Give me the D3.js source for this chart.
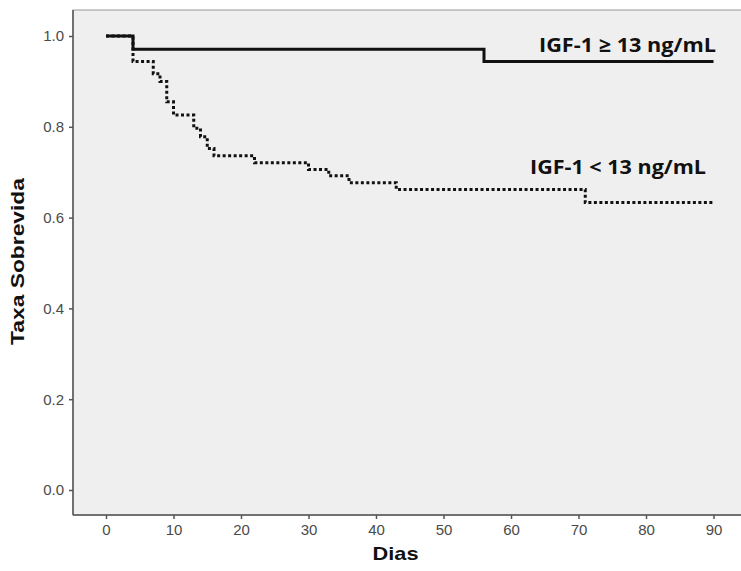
<!DOCTYPE html>
<html>
<head>
<meta charset="utf-8">
<script src="https://cdn.jsdelivr.net/npm/d3@7"></script>
<style>
  body { margin: 0; background: #fff; }
</style>
</head>
<body>
<div id="chart"></div>
<script>
// survival curves
var highDays = [0, 4, 56, 90];
var highSurv = [1.0, 0.971, 0.944, 0.944];

var lowDays = [0, 4, 7, 8, 9, 10, 13, 14, 15, 16, 22, 30, 33, 36, 43, 71, 90];
var lowSurv = [1.0, 0.944, 0.917, 0.900, 0.855, 0.826, 0.797, 0.778, 0.752, 0.736, 0.721, 0.706, 0.692, 0.677, 0.662, 0.633, 0.633];

var xTicks = [0, 10, 20, 30, 40, 50, 60, 70, 80, 90];
var yTicks = [0.0, 0.2, 0.4, 0.6, 0.8, 1.0];

var labelHigh = "IGF-1 \u2265 13 ng/mL";
var labelLow = "IGF-1 < 13 ng/mL";

var svgWidth = 741;
var svgHeight = 571;

var panel = { left: 73, top: 10, right: 760, bottom: 515 };

var svg = d3.select("#chart")
  .append("svg")
  .attr("width", svgWidth)
  .attr("height", svgHeight);

var x = d3.scaleLinear().domain([0, 90]).range([106, 713.5]);
var y = d3.scaleLinear().domain([0, 1]).range([490, 36]);

// grey panel
svg.append("rect")
  .attr("x", panel.left)
  .attr("y", panel.top)
  .attr("width", panel.right - panel.left)
  .attr("height", panel.bottom - panel.top)
  .attr("fill", "#efefef")
  .attr("stroke", "#9a9a9a")
  .attr("stroke-width", 1);

// axes
var bottomAxis = d3.axisBottom(x).tickValues(xTicks).tickSize(4).tickPadding(5).tickFormat(d3.format("d"));
var leftAxis = d3.axisLeft(y).tickValues(yTicks).tickSize(4).tickPadding(5).tickFormat(d3.format(".1f"));

var xAxis = svg.append("g")
  .attr("transform", `translate(0, ${panel.bottom})`)
  .call(bottomAxis);

var yAxis = svg.append("g")
  .attr("transform", `translate(${panel.left}, 0)`)
  .call(leftAxis);

[xAxis, yAxis].forEach(function(g) {
  g.select(".domain").remove();
  g.selectAll(".tick line").attr("stroke", "#555").attr("stroke-width", 1.5);
  g.selectAll(".tick text")
    .attr("fill", "#4a4a4a")
    .style("font-family", "'Liberation Sans', Arial, sans-serif")
    .style("font-size", "15px");
});

// axis lines
svg.append("line")
  .attr("x1", panel.left).attr("x2", panel.left)
  .attr("y1", panel.top).attr("y2", panel.bottom)
  .attr("stroke", "#555").attr("stroke-width", 1.5);
svg.append("line")
  .attr("x1", panel.left).attr("x2", svgWidth)
  .attr("y1", panel.bottom).attr("y2", panel.bottom)
  .attr("stroke", "#555").attr("stroke-width", 1.5);

// curves
var line = d3.line()
  .x(d => x(d[0]))
  .y(d => y(d[1]))
  .curve(d3.curveStepAfter);

svg.append("path")
  .datum(d3.zip(lowDays, lowSurv))
  .attr("fill", "none")
  .attr("stroke", "#111")
  .attr("stroke-width", 3)
  .attr("stroke-dasharray", "3,2.5")
  .attr("d", line);

svg.append("path")
  .datum(d3.zip(highDays, highSurv))
  .attr("fill", "none")
  .attr("stroke", "#111")
  .attr("stroke-width", 3)
  .attr("d", line);

// curve labels
svg.append("text")
  .attr("x", 716)
  .attr("y", 52)
  .attr("text-anchor", "end")
  .attr("textLength", 177)
  .attr("lengthAdjust", "spacingAndGlyphs")
  .style("font-family", "'Open Sans', sans-serif")
  .style("font-weight", "bold")
  .style("font-size", "20px")
  .attr("fill", "#111")
  .text(labelHigh);

svg.append("text")
  .attr("x", 706)
  .attr("y", 174)
  .attr("text-anchor", "end")
  .attr("textLength", 176)
  .attr("lengthAdjust", "spacingAndGlyphs")
  .style("font-family", "'Open Sans', sans-serif")
  .style("font-weight", "bold")
  .style("font-size", "20px")
  .attr("fill", "#111")
  .text(labelLow);

// axis titles
svg.append("text")
  .attr("x", 395.5)
  .attr("y", 560)
  .attr("text-anchor", "middle")
  .attr("textLength", 46)
  .attr("lengthAdjust", "spacingAndGlyphs")
  .style("font-family", "'Liberation Sans', Arial, sans-serif")
  .style("font-weight", "bold")
  .style("font-size", "19px")
  .attr("fill", "#111")
  .text("Dias");

svg.append("text")
  .attr("transform", "translate(24, 261.5) rotate(-90)")
  .attr("text-anchor", "middle")
  .attr("textLength", 167)
  .attr("lengthAdjust", "spacingAndGlyphs")
  .style("font-family", "'Liberation Sans', Arial, sans-serif")
  .style("font-weight", "bold")
  .style("font-size", "19px")
  .attr("fill", "#111")
  .text("Taxa Sobrevida");
</script>
</body>
</html>
